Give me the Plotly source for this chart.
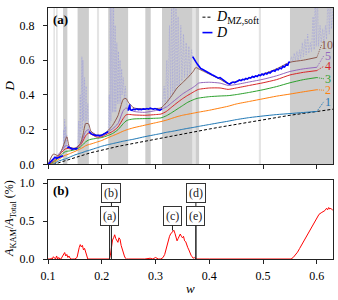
import plotly.graph_objects as go

# ---------------- data ----------------
w_grid = [0.100,0.110,0.120,0.130,0.135,0.140,0.150,0.160,0.165,0.170,0.175,0.180,0.190,0.200,
          0.210,0.220,0.230,0.240,0.245,0.250,0.260,0.280,0.300,0.310,0.320,0.330,0.340,0.350,
          0.360,0.370,0.375,0.380,0.400,0.420,0.435,0.450,0.475,0.500,0.525,0.550,0.575,0.600]

d_1 = [0.0,0.005,0.02,0.03,0.035,0.042,0.055,0.065,0.07,0.076,0.08,0.085,0.095,0.105,
       0.113,0.12,0.127,0.134,0.137,0.14,0.146,0.16,0.172,0.178,0.185,0.19,0.196,0.202,
       0.208,0.213,0.216,0.219,0.23,0.241,0.249,0.258,0.27,0.279,0.287,0.293,0.299,0.305]
d_2 = [0.0,0.01,0.03,0.05,0.056,0.062,0.075,0.09,0.098,0.108,0.114,0.118,0.128,0.138,
       0.152,0.165,0.178,0.192,0.198,0.203,0.212,0.226,0.24,0.247,0.255,0.265,0.275,0.283,
       0.289,0.295,0.298,0.301,0.312,0.325,0.335,0.348,0.363,0.378,0.393,0.405,0.418,0.43]
d_3 = [0.0,0.015,0.04,0.07,0.076,0.078,0.085,0.1,0.115,0.13,0.14,0.145,0.15,0.155,
       0.165,0.178,0.2,0.235,0.25,0.257,0.262,0.264,0.266,0.268,0.28,0.298,0.318,0.338,
       0.358,0.372,0.378,0.382,0.39,0.394,0.396,0.402,0.415,0.43,0.448,0.47,0.488,0.50]
d_4 = [0.0,0.02,0.05,0.085,0.093,0.09,0.09,0.11,0.135,0.165,0.18,0.175,0.158,0.16,
       0.175,0.19,0.215,0.265,0.285,0.288,0.285,0.283,0.287,0.29,0.305,0.33,0.355,0.378,
       0.398,0.416,0.425,0.432,0.44,0.44,0.432,0.44,0.455,0.47,0.488,0.515,0.53,0.54]
d_5 = [0.0,0.025,0.06,0.1,0.11,0.1,0.092,0.115,0.15,0.19,0.2,0.19,0.17,0.17,
       0.185,0.205,0.235,0.31,0.325,0.32,0.305,0.3,0.31,0.317,0.33,0.355,0.38,0.405,
       0.425,0.444,0.455,0.468,0.473,0.468,0.455,0.46,0.475,0.49,0.51,0.535,0.55,0.559]
d_10 = [0.0,0.06,0.05,0.12,0.16,0.1,0.093,0.12,0.17,0.235,0.235,0.19,0.168,0.17,
        0.19,0.225,0.28,0.375,0.38,0.355,0.325,0.32,0.322,0.325,0.355,0.395,0.44,0.47,
        0.5,0.535,0.558,0.55,0.52,0.49,0.465,0.478,0.498,0.52,0.55,0.588,0.6,0.616]

w_mz = w_grid + [0.615, 0.630]
d_mz = [0.0,0.0,0.01,0.02,0.025,0.03,0.04,0.05,0.055,0.06,0.064,0.068,0.075,0.083,
        0.09,0.097,0.104,0.11,0.113,0.116,0.123,0.136,0.148,0.154,0.16,0.166,0.172,0.177,
        0.182,0.188,0.19,0.193,0.204,0.215,0.223,0.232,0.246,0.259,0.271,0.283,0.294,0.305,
        0.311,0.318]

curve_names = ["1", "2", "3", "4", "5", "10"]
curve_colors = ["#1f77b4", "#ff7f0e", "#2ca02c", "#d62728", "#9467bd", "#8c564b"]
curve_vals = [d_1, d_2, d_3, d_4, d_5, d_10]
label_w = [0.613, 0.613, 0.613, 0.613, 0.613, 0.609]
label_d = [0.362, 0.427, 0.493, 0.565, 0.626, 0.69]
label_cx = [0.6215, 0.6215, 0.6215, 0.6215, 0.6215, 0.6195]

# measured diffusion D (full, including chaotic regions)
d_w = [0.100,0.104,0.108,0.111,0.113,0.116,0.119,0.122,0.125,0.128,
       0.129,0.130,0.131,0.132,0.133,0.134,0.135,
       0.136,0.138,0.140,0.142,0.145,0.148,0.150,0.152,0.155,
       0.157,0.158,0.160,0.161,0.163,0.164,0.165,0.166,0.168,0.169,0.171,0.172,0.174,0.175,
       0.176,0.178,0.180,0.183,0.186,0.190,0.193,0.196,0.200,0.203,0.206,0.209,0.212,
       0.214,0.215,0.216,0.217,0.219,0.220,0.222,0.223,0.225,0.226,0.228,0.229,0.231,0.232,
       0.234,0.235,0.237,0.238,0.240,0.242,0.244,0.246,
       0.249,0.251,0.252,0.253,0.256,0.259,0.262,0.265,0.268,0.271,0.274,0.277,0.281,0.284,
       0.287,0.290,0.293,0.296,0.299,0.302,0.305,0.308,0.312,
       0.316,0.318,0.321,0.323,0.326,0.328,0.330,0.332,0.334,0.336,0.338,0.340,0.342,0.344,
       0.347,0.349,0.352,0.354,0.357,0.359,0.362,0.364,0.367,
       0.369,0.372,0.375,0.378,0.381,0.384,0.387,0.390,0.393,0.396,0.399,0.402,0.405,0.408,
       0.411,0.414,0.417,0.420,0.423,0.426,0.429,0.432,0.435,0.438,0.441,0.444,0.447,0.450,
       0.453,0.456,0.459,0.462,0.465,0.468,0.471,0.474,0.477,0.480,0.483,0.486,0.489,0.492,
       0.495,0.498,0.501,0.504,0.507,0.510,0.513,0.516,0.519,0.522,0.525,0.528,0.531,0.534,
       0.537,0.540,0.543,0.546,0.548,0.550,
       0.553,0.555,0.558,0.560,0.563,0.565,0.568,0.570,0.573,0.575,0.578,0.580,0.583,0.585,
       0.588,0.590,0.593,0.595,0.597,0.599,0.601,0.603,0.606,0.608,0.611,0.613,0.616,0.618,
       0.621,0.623,0.625,0.627,0.630]
d_val = [0.0,0.012,0.025,0.035,0.042,0.036,0.04,0.044,0.046,0.05,
         0.2,0.08,0.26,0.1,0.22,0.12,0.17,
         0.095,0.1,0.098,0.092,0.088,0.09,0.092,0.089,0.093,
         0.25,0.12,0.4,0.15,0.62,0.2,0.6,0.25,0.5,0.22,0.45,0.25,0.35,0.22,
         0.19,0.183,0.178,0.172,0.168,0.166,0.168,0.165,0.168,0.172,0.176,0.181,0.188,
         0.4,0.2,1.0,0.25,1.0,0.3,0.95,0.3,0.8,0.3,0.7,0.35,0.65,0.35,
         0.6,0.35,0.55,0.4,0.5,0.38,0.45,0.35,
         0.31,0.33,0.345,0.315,0.312,0.318,0.315,0.32,0.316,0.318,0.315,0.32,0.318,0.322,
         0.318,0.324,0.32,0.318,0.322,0.318,0.315,0.312,0.32,
         0.45,0.33,0.6,0.35,0.8,0.38,1.0,0.4,1.0,0.42,0.95,0.45,0.85,0.45,
         0.8,0.48,0.75,0.5,0.7,0.5,0.68,0.52,0.66,
         0.62,0.6,0.59,0.576,0.562,0.552,0.548,0.542,0.537,0.53,0.527,0.52,0.516,0.512,
         0.506,0.502,0.497,0.5,0.492,0.486,0.479,0.472,0.466,0.462,0.47,0.474,0.471,0.478,
         0.48,0.486,0.482,0.49,0.487,0.495,0.491,0.5,0.497,0.506,0.502,0.51,0.506,0.515,
         0.511,0.52,0.515,0.525,0.52,0.53,0.526,0.535,0.54,0.536,0.548,0.544,0.555,0.551,
         0.565,0.561,0.575,0.571,0.588,0.59,
         0.62,0.59,0.64,0.6,0.65,0.6,0.66,0.61,0.7,0.62,0.72,0.63,0.75,0.64,
         0.7,0.65,0.85,0.66,1.0,0.68,1.0,0.68,0.8,0.7,0.78,0.7,0.8,0.72,
         1.0,0.75,1.0,0.78,0.9]

chaos_bands = [(0.128, 0.136), (0.155, 0.176), (0.212, 0.249), (0.312, 0.369), (0.550, 0.640)]
gray_bands = [(0.128, 0.136), (0.155, 0.176), (0.212, 0.249), (0.281, 0.291),
              (0.312, 0.369), (0.374, 0.381), (0.550, 0.640)]
light_bands = [(0.110, 0.113), (0.115, 0.118), (0.191, 0.195), (0.369, 0.374), (0.492, 0.496)]

# KAM area fraction (%)
w_kam = [0.100,0.104,0.106,0.108,0.110,0.112,0.114,0.116,0.118,0.120,0.122,0.124,0.127,0.129,
         0.131,0.133,0.135,0.137,0.139,0.141,0.143,0.146,0.150,0.154,0.156,0.158,0.160,0.162,
         0.164,0.166,0.168,0.170,0.172,0.174,0.176,0.180,0.190,0.200,0.210,0.214,0.216,0.218,
         0.220,0.222,0.224,0.226,0.228,0.230,0.232,0.234,0.236,0.238,0.240,0.242,0.244,0.246,
         0.250,0.260,0.280,0.290,0.295,0.300,0.305,0.310,0.314,0.317,0.320,0.322,0.324,0.326,
         0.328,0.330,0.332,0.334,0.336,0.338,0.340,0.342,0.344,0.346,0.348,0.350,0.352,0.354,
         0.356,0.358,0.360,0.362,0.364,0.366,0.368,0.370,0.372,0.375,0.400,0.450,0.500,0.540,
         0.552,0.556,0.560,0.564,0.568,0.572,0.576,0.580,0.584,0.588,0.592,0.596,0.600,0.604,
         0.608,0.612,0.615,0.618,0.620,0.622,0.624,0.626,0.628,0.630]
a_kam = [0.0,0.0,0.01,0.0,0.03,0.01,0.0,0.04,0.0,0.02,0.0,0.0,0.03,0.05,
         0.085,0.04,0.06,0.02,0.04,0.01,0.0,0.0,0.0,0.02,0.1,0.15,0.19,0.16,
         0.18,0.12,0.14,0.08,0.02,0.0,0.0,0.0,0.0,0.0,0.0,0.0,0.05,0.15,
         0.25,0.28,0.32,0.27,0.25,0.22,0.28,0.26,0.18,0.12,0.08,0.04,0.01,0.0,
         0.0,0.0,0.0,0.01,0.0,0.02,0.0,0.0,0.02,0.06,0.15,0.22,0.27,0.3,
         0.33,0.35,0.37,0.38,0.34,0.3,0.24,0.27,0.3,0.33,0.3,0.28,0.3,0.24,
         0.23,0.18,0.15,0.12,0.08,0.05,0.03,0.01,0.02,0.0,0.0,0.0,0.0,0.0,
         0.0,0.02,0.05,0.09,0.14,0.19,0.24,0.29,0.34,0.39,0.44,0.5,0.55,0.59,
         0.61,0.63,0.64,0.67,0.65,0.68,0.66,0.67,0.65,0.64]

# annotation markers in panel (b): (label, w position, arrow tip value, box value)
marker_labels = ["(b)", "(a)", "(c)", "(d)", "(e)"]
marker_w = [0.218, 0.2145, 0.3315, 0.375, 0.375]
marker_tip = [0.0, 0.0, 0.376, 0.0, 0.0]
marker_box = [0.87, 0.57, 0.57, 0.87, 0.57]

x_ticks = [0.1, 0.2, 0.3, 0.4, 0.5, 0.6]
y1_ticks = [0.0, 0.2, 0.4, 0.6, 0.8]
y2_ticks = [0.0, 0.5, 1.0]

# ---------------- figure ----------------
FONT = "Liberation Serif, DejaVu Serif, serif"
fig = go.Figure()

for a, b in gray_bands:
    fig.add_shape(type="rect", xref="x", yref="y domain", x0=a, x1=b, y0=0, y1=1,
                  fillcolor="#cdcdcd", line_width=0, layer="below")
for a, b in light_bands:
    fig.add_shape(type="rect", xref="x", yref="y domain", x0=a, x1=b, y0=0, y1=1,
                  fillcolor="#e4e4e4", line_width=0, layer="below")

# light dashed full D
fig.add_trace(go.Scatter(x=d_w, y=d_val, mode="lines", xaxis="x", yaxis="y",
                         line=dict(color="rgba(120,120,235,0.26)", width=1, dash="2px,1px"),
                         showlegend=False))

fig.add_trace(go.Scatter(x=w_mz, y=d_mz, mode="lines", xaxis="x", yaxis="y",
                         line=dict(color="black", width=1, dash="3px,2px"), showlegend=False))

for name, col, vals, lw, ld, cx in zip(curve_names, curve_colors, curve_vals,
                                       label_w, label_d, label_cx):
    fig.add_trace(go.Scatter(x=w_grid, y=vals, mode="lines", xaxis="x", yaxis="y",
                             line=dict(color=col, width=1, shape="spline", smoothing=0.6),
                             showlegend=False))
    fig.add_trace(go.Scatter(x=[w_grid[-1], lw], y=[vals[-1], ld], mode="lines",
                             xaxis="x", yaxis="y",
                             line=dict(color=col, width=1, dash="1px,1px"), showlegend=False))
    fig.add_annotation(x=cx, y=ld, xref="x", yref="y", text=name, showarrow=False,
                       xanchor="center", yanchor="middle",
                       font=dict(family=FONT, size=12, color=col))

def in_chaos(w):
    return any(a < w < b for a, b in chaos_bands)

d_thick = [None if in_chaos(w) else v for w, v in zip(d_w, d_val)]
fig.add_trace(go.Scatter(x=d_w, y=d_thick, mode="lines", xaxis="x", yaxis="y",
                         line=dict(color="#0000ff", width=1.6), connectgaps=False,
                         showlegend=False))

# panel b
fig.add_trace(go.Scatter(x=w_kam, y=a_kam, mode="lines", xaxis="x2", yaxis="y2",
                         line=dict(color="#ff0000", width=1), showlegend=False))

for lab, mw, tip, box in zip(marker_labels, marker_w, marker_tip, marker_box):
    fig.add_annotation(x=mw, y=tip, xref="x2", yref="y2", ax=mw, ay=box,
                       axref="x2", ayref="y2", text=lab, showarrow=True, arrowhead=0,
                       arrowwidth=1, arrowcolor="#222222", bordercolor="#333333",
                       borderwidth=1, borderpad=2, bgcolor="white",
                       font=dict(family=FONT, size=12, color="#222222"))

# legend (manual)
fig.add_shape(type="line", xref="paper", yref="paper", x0=0.542, x1=0.577, y0=0.9635, y1=0.9635,
              line=dict(color="black", width=1, dash="3px,2px"))
fig.add_shape(type="line", xref="paper", yref="paper", x0=0.542, x1=0.577, y0=0.902, y1=0.902,
              line=dict(color="#0000ff", width=1.6))
fig.add_annotation(x=0.584, y=0.9635, xref="paper", yref="paper", xanchor="left", yanchor="middle",
                   text="<i>D</i><sub>MZ,soft</sub>", showarrow=False,
                   font=dict(family=FONT, size=14, color="black"))
fig.add_annotation(x=0.584, y=0.902, xref="paper", yref="paper", xanchor="left", yanchor="middle",
                   text="<i>D</i>", showarrow=False, font=dict(family=FONT, size=14, color="black"))

# panel labels
fig.add_annotation(x=0.012, y=0.955, xref="paper", yref="paper", xanchor="left", yanchor="middle",
                   text="<b>(a)</b>", showarrow=False, font=dict(family=FONT, size=13, color="black"))
fig.add_annotation(x=0.012, y=0.273, xref="paper", yref="paper", xanchor="left", yanchor="middle",
                   text="<b>(b)</b>", showarrow=False, font=dict(family=FONT, size=13, color="black"))

# axis titles
fig.add_annotation(x=-0.136, y=0.688, xref="paper", yref="paper", textangle=-90,
                   xanchor="center", yanchor="middle",
                   text="<i>D</i>", showarrow=False, font=dict(family=FONT, size=13, color="black"))
fig.add_annotation(x=-0.133, y=0.16, xref="paper", yref="paper", textangle=-90,
                   xanchor="center", yanchor="middle",
                   text="<i>A</i><sub>KAM</sub>/<i>A</i><sub>Total</sub> (%)", showarrow=False,
                   font=dict(family=FONT, size=12, color="black"))
fig.add_annotation(x=0.5, y=-0.118, xref="paper", yref="paper", xanchor="center", yanchor="middle",
                   text="<i>w</i>", showarrow=False, font=dict(family=FONT, size=13, color="black"))

axis_common = dict(showline=True, linecolor="#222222", linewidth=1, mirror=True,
                   ticks="outside", ticklen=4, tickwidth=1, tickcolor="#222222",
                   showgrid=False, zeroline=False, tickfont=dict(family=FONT, size=12, color="black"))

fig.update_layout(
    width=338, height=300,
    margin=dict(l=48, r=4, t=4, b=41),
    paper_bgcolor="white", plot_bgcolor="white",
    font=dict(family=FONT, size=12, color="black"),
    showlegend=False,
    xaxis=dict(domain=[0, 1], range=[0.1, 0.63], anchor="y", tickvals=x_ticks,
               showticklabels=False, **axis_common),
    yaxis=dict(domain=[0.3765, 1], range=[0, 0.9], anchor="x", tickvals=y1_ticks,
               tickformat=".1f", ticklabelstandoff=6, **axis_common),
    xaxis2=dict(domain=[0, 1], range=[0.1, 0.63], anchor="y2", tickvals=x_ticks,
                tickformat=".1f", ticklabelstandoff=2, **axis_common),
    yaxis2=dict(domain=[0, 0.3137], range=[0, 1.04], anchor="x2", tickvals=y2_ticks,
                tickformat=".1f", ticklabelstandoff=6, **axis_common),
)

fig.write_html("out.html", config={"displayModeBar": False},
               post_script="document.body.style.margin='0';document.body.style.overflow='hidden';")
